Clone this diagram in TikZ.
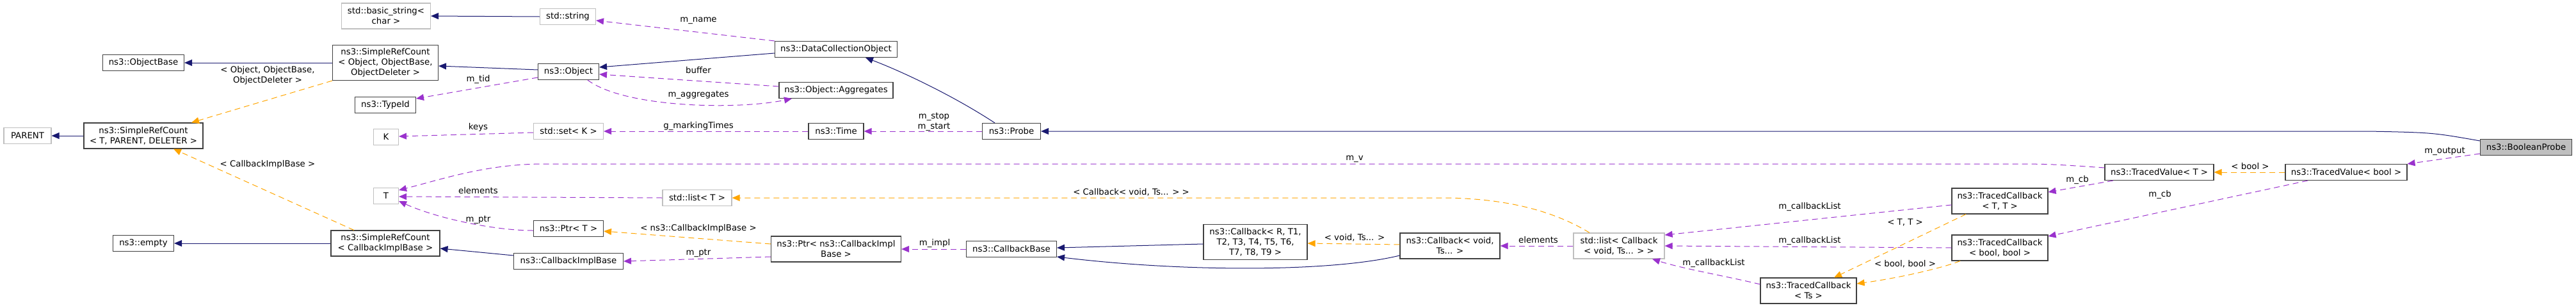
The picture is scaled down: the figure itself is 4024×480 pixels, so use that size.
\documentclass[tikz,border=0pt]{standalone}
\usepackage{fontspec}
\setmainfont{DejaVu Sans}
\usetikzlibrary{arrows.meta}
\definecolor{herencia}{HTML}{191970}
\definecolor{plantilla}{HTML}{FFA500}
\definecolor{uso}{HTML}{9A32CD}
\definecolor{borde}{HTML}{404040}
\definecolor{bordegris}{HTML}{BFBFBF}
\newcommand{\letra}{\fontsize{13.3}{16}\selectfont}
\tikzset{
  cls/.style={draw=borde, line width=1.1pt, fill=white, inner sep=0pt, minimum height=25pt, align=center, font=\letra},
  ext/.style={cls, draw=bordegris},
  h2/.style={minimum height=40pt},
  h3/.style={minimum height=55pt},
  lbl/.style={inner sep=0pt, align=center, font=\letra},
  flecha/.style={-{Triangle[length=12pt,width=10pt]}, line width=1pt},
  inh/.style={flecha, draw=herencia},
  tpl/.style={flecha, draw=plantilla, dash pattern=on 9pt off 6pt},
  usa/.style={flecha, draw=uso, dash pattern=on 9pt off 6pt},
}

\begin{document}
\begin{tikzpicture}[x=1pt, y=-1pt]
\useasboundingbox (0,0) rectangle (4024,480);
% Clases
\node[ext, h2, minimum width=139pt] (basicstr) at (603,25) {std::basic\_string<\\char >};
\node[cls, minimum width=127pt] (objbase) at (224,98) {ns3::ObjectBase};
\node[cls, h3, minimum width=165pt] (srcobj) at (602,98) {ns3::SimpleRefCount\\< Object, ObjectBase,\\ObjectDeleter >};
\node[cls, minimum width=95pt] (typeid) at (602,164) {ns3::TypeId};
\node[ext, minimum width=39pt] (K) at (603,214) {K};
\node[ext, minimum width=74pt] (parent) at (43,212) {PARENT};
\node[cls, h2, minimum width=186pt] (srcT) at (224,212) {ns3::SimpleRefCount\\< T, PARENT, DELETER >};
\node[ext, minimum width=39pt] (T) at (603,306) {T};
\node[cls, minimum width=95pt] (empty) at (224,380) {ns3::empty};
\node[cls, h2, minimum width=170pt] (srccb) at (602,380) {ns3::SimpleRefCount\\< CallbackImplBase >};
\node[ext, minimum width=87pt] (string) at (887,26) {std::string};
\node[cls, minimum width=95pt] (object) at (888,112) {ns3::Object};
\node[cls, minimum width=191pt] (dco) at (1306,77) {ns3::DataCollectionObject};
\node[cls, minimum width=178pt] (aggr) at (1306,141) {ns3::Object::Aggregates};
\node[ext, minimum width=109pt] (setK) at (888,205) {std::set< K >};
\node[cls, minimum width=86pt] (time) at (1306,205) {ns3::Time};
\node[ext, minimum width=108pt] (listT) at (1089,309) {std::list< T >};
\node[cls, minimum width=109pt] (ptrT) at (888,357) {ns3::Ptr< T >};
\node[cls, minimum width=171pt] (cbimpl) at (888,408) {ns3::CallbackImplBase};
\node[cls, h2, minimum width=203pt] (ptrcb) at (1306,389) {ns3::Ptr< ns3::CallbackImpl\\Base >};
\node[cls, minimum width=91pt] (probe) at (1580,205) {ns3::Probe};
\node[cls, minimum width=141pt] (cbbase) at (1580,389) {ns3::CallbackBase};
\node[cls, h3, minimum width=162pt] (cbR) at (1961,378) {ns3::Callback< R, T1,\\T2, T3, T4, T5, T6,\\T7, T8, T9 >};
\node[cls, h2, minimum width=156pt] (cbvoid) at (2265,384) {ns3::Callback< void,\\Ts... >};
\node[ext, h2, minimum width=142pt] (listcb) at (2529,384) {std::list< Callback\\< void, Ts... > >};
\node[cls, h2, minimum width=150pt] (tcTT) at (3124,314) {ns3::TracedCallback\\< T, T >};
\node[cls, h2, minimum width=150pt] (tcbb) at (3124,387) {ns3::TracedCallback\\< bool, bool >};
\node[cls, h2, minimum width=150pt] (tcTs) at (2825,454) {ns3::TracedCallback\\< Ts >};
\node[cls, minimum width=170pt] (tvT) at (3373,269) {ns3::TracedValue< T >};
\node[cls, minimum width=190pt] (tvbool) at (3665,269) {ns3::TracedValue< bool >};
\node[cls, fill=bordegris, minimum width=143pt] (bprobe) at (3946,230) {ns3::BooleanProbe};
% Herencia
\draw[inh] (string.west) -- (basicstr.east);
\draw[inh] (srcobj.west) -- (objbase.east);
\draw[inh] ([yshift=3pt]object.west) -- ([yshift=-5pt]srcobj.east);
\draw[inh] ([yshift=-6pt]dco.west) -- ([yshift=7pt]object.east);
\draw[inh] ([xshift=-26pt]probe.north) .. controls (1490,150) and (1410,112) .. ([xshift=46pt]dco.south);
\draw[inh] ([yshift=10pt]bprobe.west) .. controls (3800,207) .. (3700,205) -- (probe.east);
\draw[inh] (srcT.west) -- (parent.east);
\draw[inh] (srccb.west) -- (empty.east);
\draw[inh] ([yshift=9pt]cbimpl.west) -- ([yshift=-8pt]srccb.east);
\draw[inh] ([yshift=-3pt]cbR.west) -- ([yshift=2pt]cbbase.east);
\draw[inh] ([yshift=-15pt]cbvoid.west) .. controls (2080,425) and (1850,425) .. ([yshift=-12pt]cbbase.east);
% Plantillas
\draw[tpl] (srcobj.south west) -- ([xshift=75pt]srcT.north);
\draw[tpl] ([xshift=-49pt]srccb.north) -- ([xshift=47pt]srcT.south);
\draw[tpl] ([yshift=8pt]ptrcb.west) -- ([yshift=-4pt]ptrT.east);
\draw[tpl] ([xshift=-46pt]listcb.north) .. controls (2420,325) and (2340,309) .. (2250,309) -- (listT.east);
\draw[tpl] ([yshift=2pt]cbvoid.west) -- ([yshift=-2pt]cbR.east);
\draw[tpl] ([xshift=-53pt]tcTT.south) -- ([xshift=40pt]tcTs.north);
\draw[tpl] ([xshift=-62pt]tcbb.south) .. controls (3030,420) and (2960,435) .. ([yshift=11pt]tcTs.east);
\draw[tpl] (tvbool.west) -- (tvT.east);
% Uso
\draw[usa] (dco.north west) -- ([yshift=-6pt]string.east);
\draw[usa] ([yshift=-9pt]object.west) -- ([yshift=10pt]typeid.east);
\draw[usa] ([yshift=6pt]aggr.west) -- ([yshift=-4pt]object.east);
\draw[usa] ([xshift=30pt]object.south) .. controls (975,168) and (1150,172) .. ([xshift=-69pt]aggr.south);
\draw[usa] ([yshift=-2pt]setK.west) -- ([yshift=1pt]K.east);
\draw[usa] (time.west) -- (setK.east);
\draw[usa] (probe.west) -- (time.east);
\draw[usa] ([yshift=7pt]tvT.west) .. controls (3200,256) .. (3120,256) -- (850,256) .. controls (760,256) and (690,280) .. ([yshift=9pt]T.east);
\draw[usa] (listT.west) -- ([yshift=-1pt]T.east);
\draw[usa] ([yshift=-3pt]ptrT.west) .. controls (770,360) and (680,340) .. ([yshift=-8pt]T.east);
\draw[usa] ([yshift=-12pt]ptrcb.west) -- (cbimpl.east);
\draw[usa] (cbbase.west) -- (ptrcb.east);
\draw[usa] (listcb.west) -- (cbvoid.east);
\draw[usa] ([yshift=-6pt]tcTT.west) -- ([yshift=17pt]listcb.east);
\draw[usa] (tcbb.west) -- (listcb.east);
\draw[usa] ([yshift=10pt]tcTs.west) .. controls (2700,432) and (2630,420) .. ([xshift=52pt]listcb.south);
\draw[usa] ([xshift=-72pt]tvT.south) -- ([yshift=14pt]tcTT.east);
\draw[usa] ([xshift=-60pt]tvbool.south) -- ([yshift=18pt]tcbb.east);
\draw[usa] ([yshift=-10pt]bprobe.west) -- (tvbool.north east);
% Etiquetas
\node[lbl] (l-objdel) at (418,118) {< Object, ObjectBase,\\ObjectDeleter >};
\node[lbl] (l-cbimpl) at (418,257) {< CallbackImplBase >};
\node[lbl] (l-name) at (1091,32) {m\_name};
\node[lbl] (l-tid) at (747,124) {m\_tid};
\node[lbl] (l-buffer) at (1091,110) {buffer};
\node[lbl] (l-aggr) at (1091,148) {m\_aggregates};
\node[lbl] (l-keys) at (747,199) {keys};
\node[lbl] (l-marking) at (1091,197) {g\_markingTimes};
\node[lbl] (l-elemT) at (747,298) {elements};
\node[lbl] (l-ptrT) at (747,343) {m\_ptr};
\node[lbl] (l-ptrcb) at (1091,357) {< ns3::CallbackImplBase >};
\node[lbl] (l-ptr) at (1091,395) {m\_ptr};
\node[lbl] (l-stop) at (1459,190) {m\_stop\\m\_start};
\node[lbl] (l-listcb) at (1767,300) {< Callback< void, Ts... > >};
\node[lbl] (l-impl) at (1460,380) {m\_impl};
\node[lbl] (l-v) at (2116,248) {m\_v};
\node[lbl] (l-void) at (2116,371) {< void, Ts... >};
\node[lbl] (l-elemcb) at (2403,375) {elements};
\node[lbl] (l-cbT) at (3245,281) {m\_cb};
\node[lbl] (l-listTT) at (2827,323) {m\_callbackList};
\node[lbl] (l-TT) at (2976,347) {< T, T >};
\node[lbl] (l-listbb) at (2827,376) {m\_callbackList};
\node[lbl] (l-listTs) at (2677,411) {m\_callbackList};
\node[lbl] (l-bb) at (2976,412) {< bool, bool >};
\node[lbl] (l-output) at (3819,236) {m\_output};
\node[lbl] (l-bool) at (3515,260) {< bool >};
\node[lbl] (l-cbbool) at (3374,304) {m\_cb};
\end{tikzpicture}
\end{document}
